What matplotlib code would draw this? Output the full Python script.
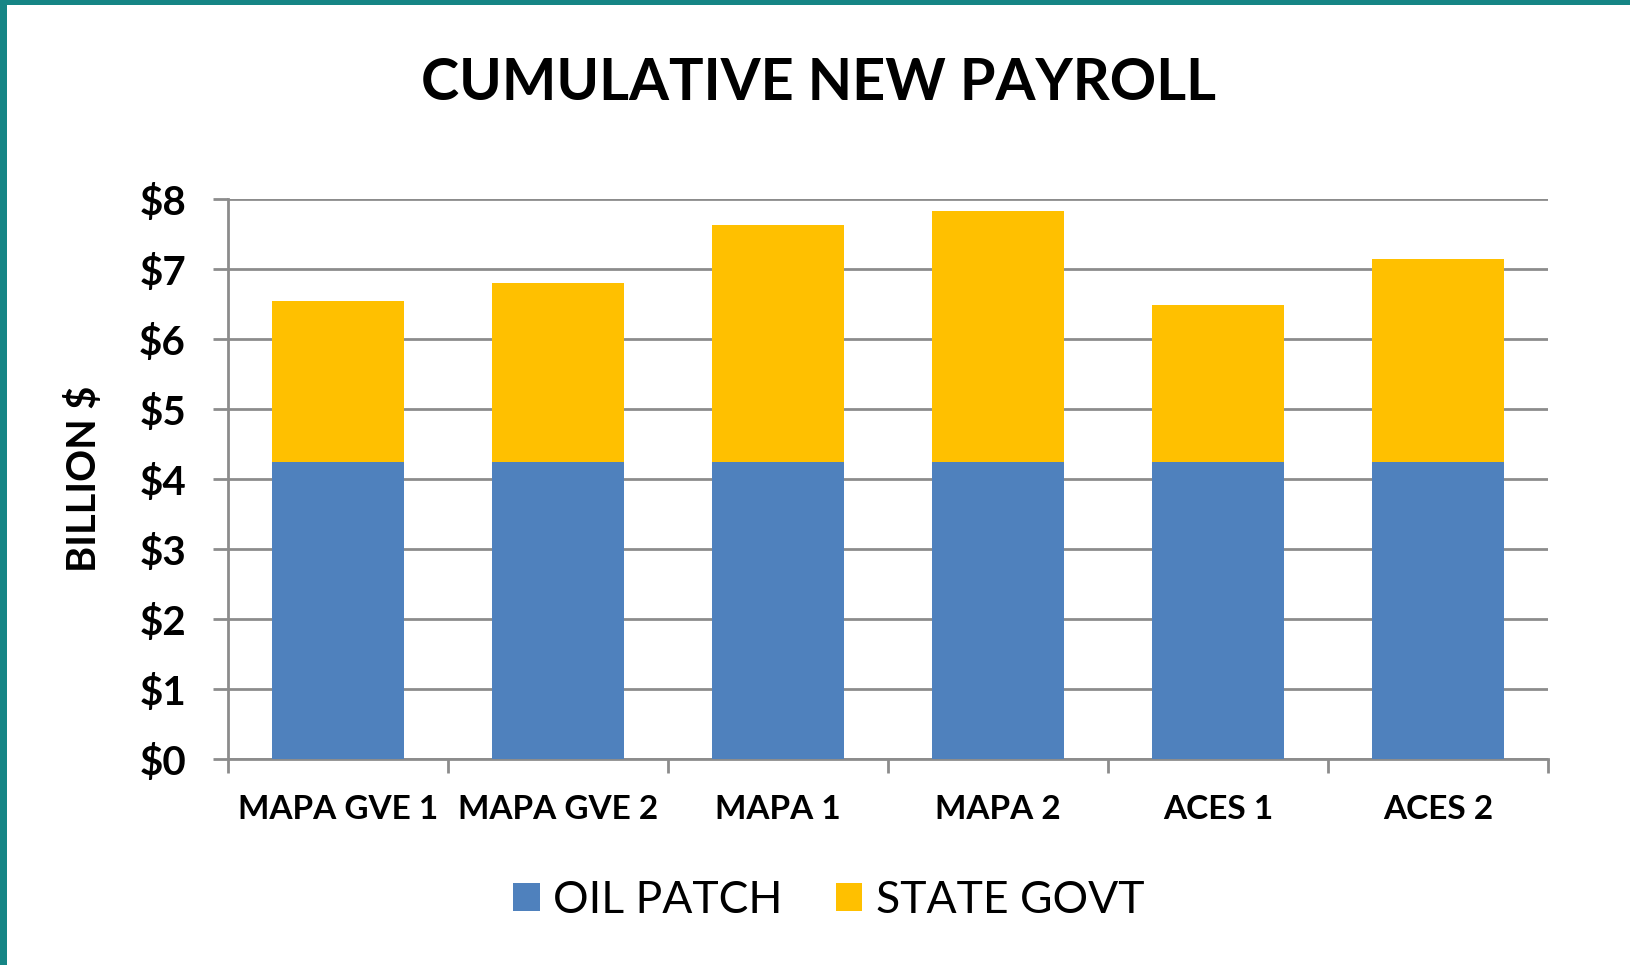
import matplotlib
matplotlib.use("Agg")
import matplotlib.pyplot as plt
from matplotlib.patches import Rectangle
from matplotlib.ticker import FixedLocator, FuncFormatter

categories = ["MAPA GVE 1", "MAPA GVE 2", "MAPA 1", "MAPA 2", "ACES 1", "ACES 2"]
oil_patch = [4.24, 4.24, 4.24, 4.24, 4.24, 4.24]
totals = [6.55, 6.81, 7.63, 7.83, 6.49, 7.14]
state_govt = [t - o for t, o in zip(totals, oil_patch)]
series_names = ["OIL PATCH", "STATE GOVT"]
yticks = [0, 1, 2, 3, 4, 5, 6, 7, 8]

BLUE = "#4F81BD"
GOLD = "#FFC000"
GRID = "#8C8C8C"
TEAL = "#158585"
FONT = "Lato"

fig = plt.figure(figsize=(16.31, 9.65), dpi=100)
fig.patch.set_facecolor("white")

# teal border (top & left)
fig.add_artist(Rectangle((0, 1 - 5 / 965), 1, 5 / 965, transform=fig.transFigure,
                         facecolor=TEAL, edgecolor="none", zorder=10))
fig.add_artist(Rectangle((0, 0), 7 / 1631, 1, transform=fig.transFigure,
                         facecolor=TEAL, edgecolor="none", zorder=10))

ax = fig.add_axes([0.1396, 0.2132, 0.8095, 0.5803])
x = list(range(len(categories)))
ax.bar(x, oil_patch, width=0.6, color=BLUE, label=series_names[0], zorder=3)
ax.bar(x, state_govt, width=0.6, bottom=oil_patch, color=GOLD, label=series_names[1], zorder=3)

ax.set_xlim(-0.5, len(categories) - 0.5)
ax.set_ylim(0, 8)
ax.yaxis.set_major_locator(FixedLocator(yticks))
ax.yaxis.set_major_formatter(FuncFormatter(lambda v, p: f"${int(v)}"))
ax.grid(axis="y", color=GRID, linewidth=2, zorder=0)
ax.set_axisbelow(True)

for s in ["top", "right"]:
    ax.spines[s].set_visible(False)
for s in ["left", "bottom"]:
    ax.spines[s].set_color(GRID)
    ax.spines[s].set_linewidth(2)

ax.set_xticks(x)
ax.set_xticklabels(categories, fontfamily=FONT, fontweight="bold", fontsize=24)
ax.set_xticks([i - 0.5 for i in range(len(categories) + 1)], minor=True)
ax.tick_params(axis="x", which="major", length=0, pad=26)
ax.tick_params(axis="x", which="minor", length=10, width=2, color=GRID, direction="out")
ax.tick_params(axis="y", which="major", length=11, width=2, color=GRID, pad=19)
for lab in ax.get_yticklabels():
    lab.set_fontfamily(FONT)
    lab.set_fontweight("bold")
    lab.set_fontsize(29)

ax.set_ylabel("BILLION $", fontfamily=FONT, fontweight="bold", fontsize=28.5, labelpad=26)

fig.text(0.502, 0.913, "CUMULATIVE NEW PAYROLL", ha="center", va="center",
         fontfamily=FONT, fontweight="bold", fontsize=41.5)

leg = fig.legend(loc="center", bbox_to_anchor=(0.508, 0.067), ncol=2, frameon=False,
                 prop={"family": FONT, "size": 32}, handlelength=0.6, handleheight=0.6,
                 handletextpad=0.3, columnspacing=1.2)

fig.savefig("out.png", dpi=100)
